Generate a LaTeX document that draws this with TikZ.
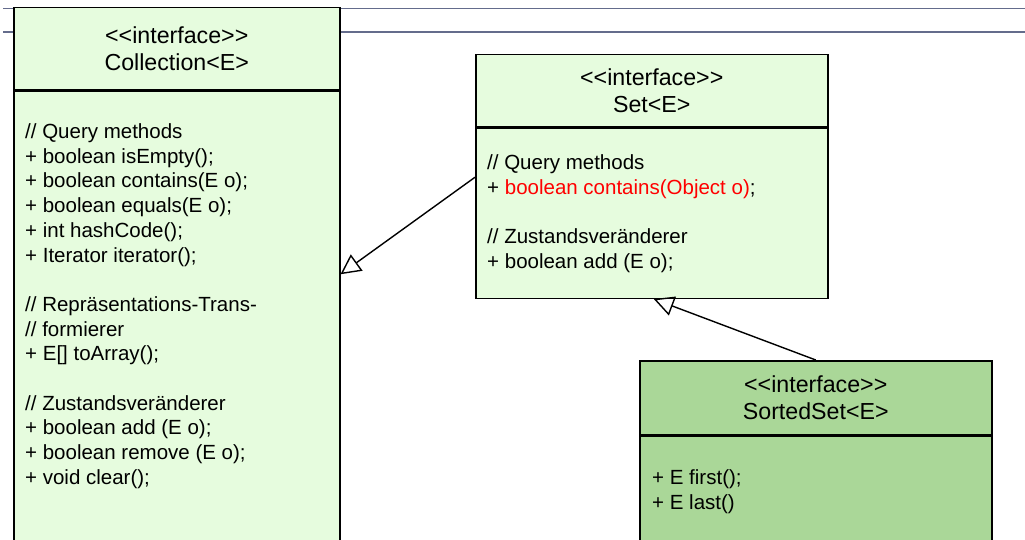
\documentclass[tikz,border=0pt]{standalone}
\usepackage{fontspec}
\setmainfont{Liberation Sans}
\usetikzlibrary{arrows.meta}
\definecolor{pale}{HTML}{E6FCDE}
\definecolor{sorted}{HTML}{AAD798}
\definecolor{slide}{HTML}{646C8C}
\newcommand{\iface}{<{}<interface>{}>}
\begin{document}
\begin{tikzpicture}[x=1pt, y=-1pt,
  >={Triangle[open, length=20pt, width=20pt]},
  box/.style={draw, line width=1.5pt, anchor=north west, inner sep=0pt, fill=pale},
  head/.style={box, align=center, font={\fontsize{23.2}{27}\selectfont}},
  members/.style={anchor=north west, inner sep=0pt, align=left, font={\fontsize{20.5}{24.7}\selectfont}}]
\useasboundingbox (0,0) rectangle (1025,540);
\clip (0,0) rectangle (1025,540);
\draw[slide, line width=1.6pt] (3,8.5) -- (1025,8.5) (3,32) -- (1025,32);
% Collection
\node[head, minimum width=326pt, minimum height=82pt] (C) at (13,7) {\iface\\Collection<E>};
\node[box, minimum width=326pt, minimum height=470pt] (Cm) at (C.south west) {};
\node[members] (Cl) at ([shift={(12pt,-33pt)}]Cm.north west) {// Query methods\\
+ boolean isEmpty();\\
+ boolean contains(E o);\\
+ boolean equals(E o);\\
+ int hashCode();\\
+ Iterator iterator();\\[24.7pt]
// Repräsentations-Trans-\\
// formierer\\
+ E[] toArray();\\[24.7pt]
// Zustandsveränderer\\
+ boolean add (E o);\\
+ boolean remove (E o);\\
+ void clear();};
% Set
\node[head, minimum width=352pt, minimum height=72pt] (S) at (475,54) {\iface\\Set<E>};
\node[box, minimum width=352pt, minimum height=170pt] (Sm) at (S.south west) {};
\node[members] (Sl) at ([shift={(12pt,-27pt)}]Sm.north west) {// Query methods\\
+ \textcolor{red}{boolean contains(Object o)};\\[24.7pt]
// Zustandsveränderer\\
+ boolean add (E o);};
% SortedSet
\node[head, fill=sorted, minimum width=352pt, minimum height=74pt] (SS) at (639,360) {\iface\\SortedSet<E>};
\node[box, fill=sorted, minimum width=352pt, minimum height=150pt] (SSm) at (SS.south west) {};
\node[members] (SSl) at ([shift={(13pt,-34pt)}]SSm.north west) {+ E first();\\
+ E last()};
\draw[->, line width=1.4pt] ([yshift=36pt]Sm.west) -- ([yshift=52pt]Cm.east);
\draw[->, line width=1.4pt] (SS.north) -- ([xshift=2pt]Sm.south);
\end{tikzpicture}
\end{document}
